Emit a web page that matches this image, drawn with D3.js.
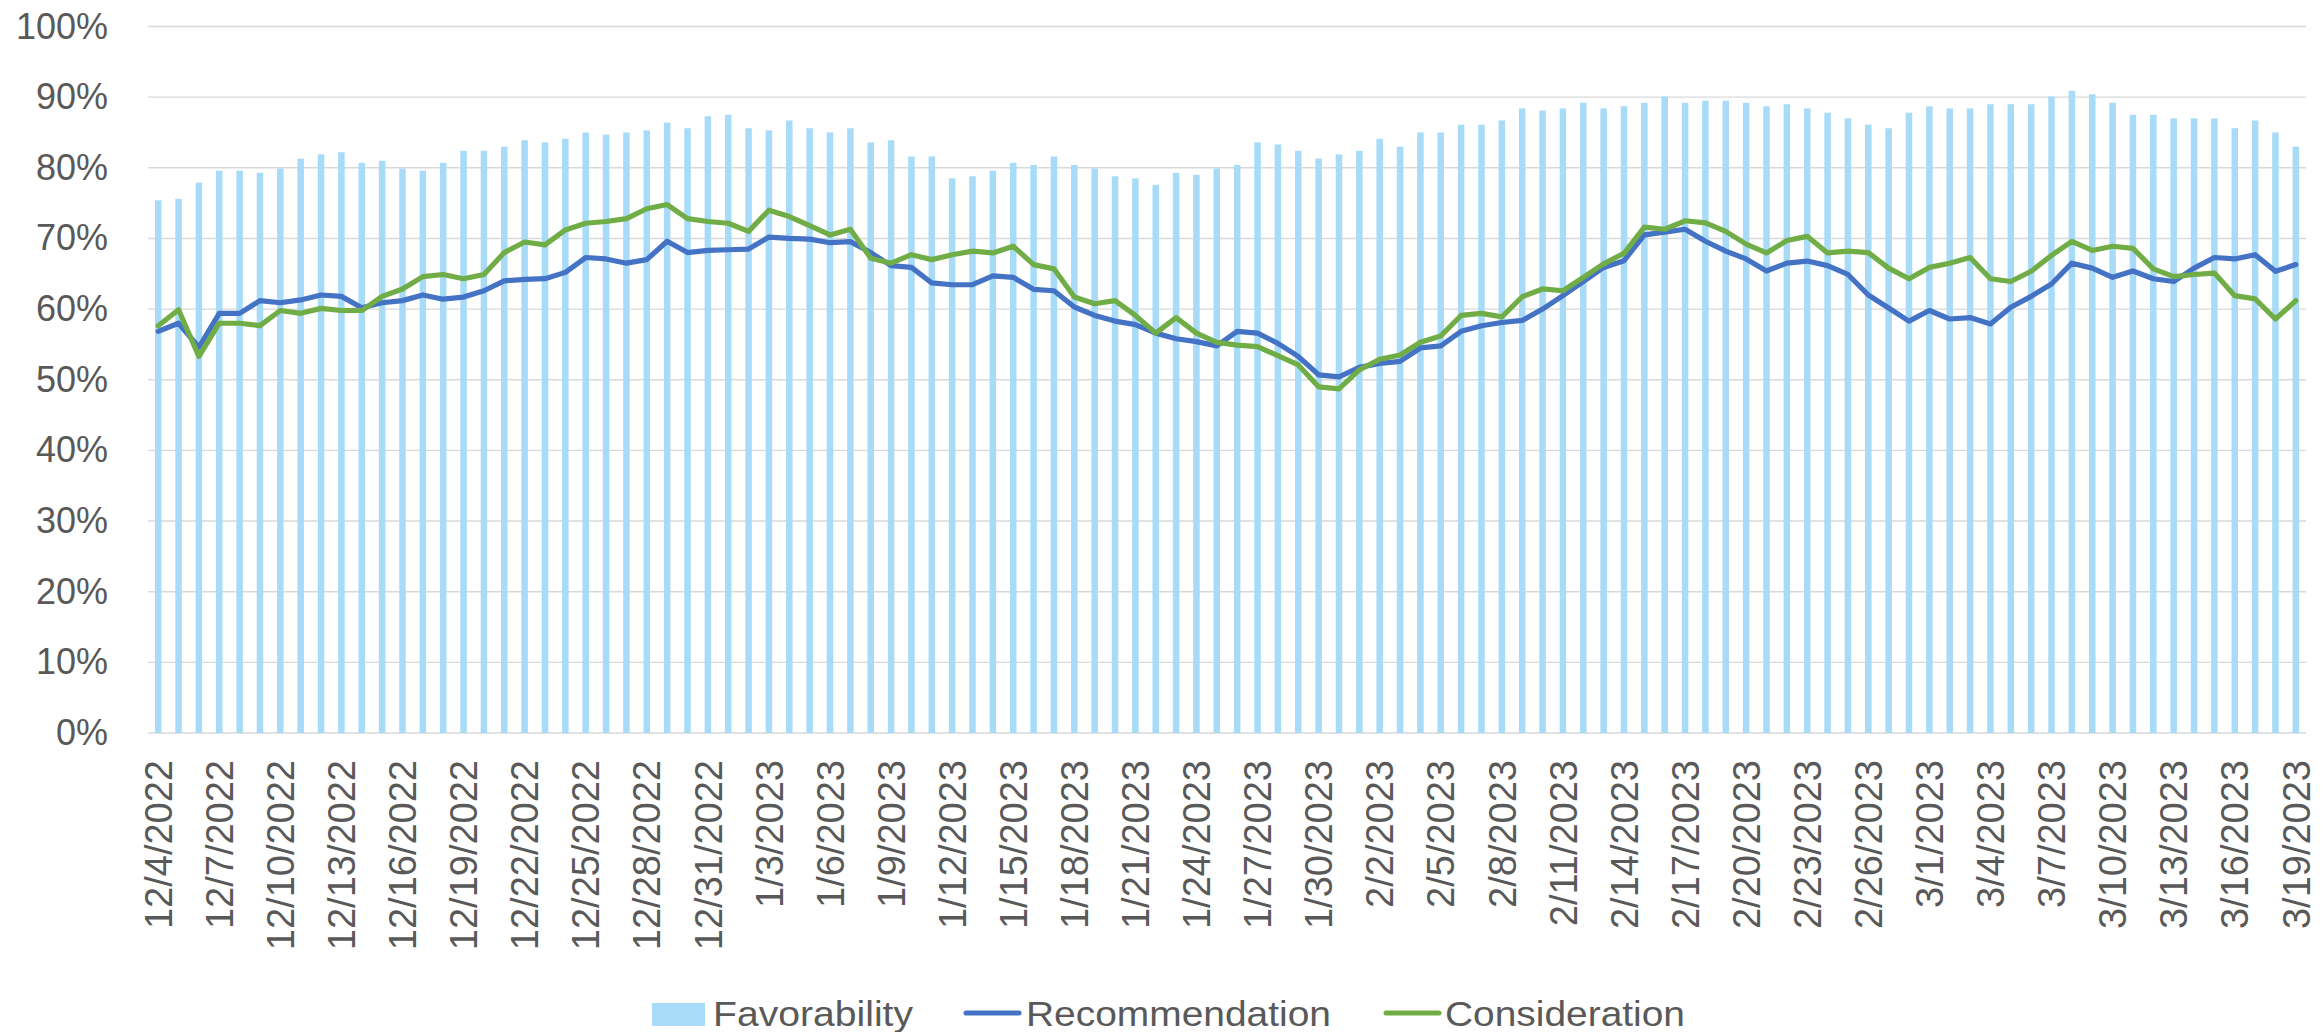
<!DOCTYPE html>
<html>
<head>
<meta charset="utf-8">
<script src="https://cdn.jsdelivr.net/npm/d3@7"></script>
<style>
  html, body { margin: 0; padding: 0; background: #ffffff; }
  svg { display: block; }
  text { font-family: "Liberation Sans", Arial, sans-serif; fill: #595959; }
</style>
</head>
<body>
<svg id="chart" width="2321" height="1032"></svg>
<script>
const dates = [
  "12/4/2022","12/5/2022","12/6/2022","12/7/2022","12/8/2022","12/9/2022","12/10/2022","12/11/2022","12/12/2022","12/13/2022",
  "12/14/2022","12/15/2022","12/16/2022","12/17/2022","12/18/2022","12/19/2022","12/20/2022","12/21/2022","12/22/2022","12/23/2022",
  "12/24/2022","12/25/2022","12/26/2022","12/27/2022","12/28/2022","12/29/2022","12/30/2022","12/31/2022",
  "1/1/2023","1/2/2023","1/3/2023","1/4/2023","1/5/2023","1/6/2023","1/7/2023","1/8/2023","1/9/2023","1/10/2023",
  "1/11/2023","1/12/2023","1/13/2023","1/14/2023","1/15/2023","1/16/2023","1/17/2023","1/18/2023","1/19/2023","1/20/2023",
  "1/21/2023","1/22/2023","1/23/2023","1/24/2023","1/25/2023","1/26/2023","1/27/2023","1/28/2023","1/29/2023","1/30/2023","1/31/2023",
  "2/1/2023","2/2/2023","2/3/2023","2/4/2023","2/5/2023","2/6/2023","2/7/2023","2/8/2023","2/9/2023","2/10/2023",
  "2/11/2023","2/12/2023","2/13/2023","2/14/2023","2/15/2023","2/16/2023","2/17/2023","2/18/2023","2/19/2023","2/20/2023",
  "2/21/2023","2/22/2023","2/23/2023","2/24/2023","2/25/2023","2/26/2023","2/27/2023","2/28/2023",
  "3/1/2023","3/2/2023","3/3/2023","3/4/2023","3/5/2023","3/6/2023","3/7/2023","3/8/2023","3/9/2023","3/10/2023",
  "3/11/2023","3/12/2023","3/13/2023","3/14/2023","3/15/2023","3/16/2023","3/17/2023","3/18/2023","3/19/2023"
];

const favorability = [
  75.4,75.6,77.9,79.6,79.6,79.3,79.9,81.3,81.9,82.2,
  80.7,81.0,79.9,79.6,80.7,82.4,82.4,83.0,83.9,83.6,
  84.1,85.0,84.7,85.0,85.3,86.4,85.6,87.3,87.5,85.6,
  85.3,86.7,85.6,85.0,85.6,83.6,83.9,81.6,81.6,78.5,
  78.8,79.6,80.7,80.4,81.6,80.4,79.9,78.8,78.5,77.6,
  79.3,79.0,79.9,80.4,83.6,83.3,82.4,81.3,81.9,82.4,
  84.1,83.0,85.0,85.0,86.1,86.1,86.7,88.4,88.1,88.4,
  89.2,88.4,88.7,89.2,90.1,89.2,89.5,89.5,89.2,88.7,
  89.0,88.4,87.8,87.0,86.1,85.6,87.8,88.7,88.4,88.4,
  89.0,89.0,89.0,90.1,90.9,90.4,89.2,87.5,87.5,87.0,
  87.0,87.0,85.6,86.7,85.0,83.0
];

const recommendation = [
  56.85,58.0,54.6,59.4,59.4,61.2,60.9,61.3,62.0,61.8,
  60.2,60.9,61.2,62.0,61.4,61.7,62.6,64.0,64.2,64.3,
  65.2,67.3,67.1,66.5,67.0,69.6,68.0,68.3,68.4,68.5,
  70.2,70.0,69.9,69.4,69.55,68.0,66.15,65.9,63.7,63.45,
  63.45,64.7,64.5,62.8,62.6,60.3,59.1,58.3,57.8,56.6,
  55.8,55.4,54.8,56.85,56.6,55.15,53.3,50.7,50.4,51.75,
  52.3,52.6,54.5,54.8,56.85,57.65,58.1,58.4,60.0,61.9,
  63.9,65.9,66.85,70.5,70.9,71.3,69.6,68.2,67.1,65.4,
  66.5,66.8,66.15,64.9,62.0,60.15,58.3,59.8,58.6,58.8,
  57.9,60.25,61.8,63.55,66.5,65.8,64.5,65.4,64.3,63.9,
  65.8,67.3,67.1,67.7,65.35,66.3
];

const consideration = [
  57.65,59.9,53.3,58.0,58.0,57.65,59.8,59.4,60.1,59.8,
  59.8,61.8,62.85,64.6,64.9,64.3,64.9,68.0,69.5,69.1,
  71.2,72.15,72.4,72.8,74.2,74.8,72.8,72.4,72.15,71.0,
  74.0,73.1,71.8,70.5,71.3,67.2,66.5,67.7,67.0,67.7,
  68.2,67.95,68.9,66.3,65.7,61.7,60.75,61.2,59.1,56.6,
  58.8,56.6,55.3,54.9,54.7,53.4,52.1,49.0,48.7,51.4,
  52.9,53.5,55.3,56.2,59.1,59.4,58.9,61.75,62.85,62.6,
  64.5,66.4,67.9,71.6,71.3,72.5,72.2,71.0,69.2,67.95,
  69.7,70.3,67.95,68.2,68.0,65.8,64.3,65.9,66.5,67.3,
  64.3,63.9,65.35,67.6,69.6,68.3,68.9,68.6,65.7,64.6,
  64.9,65.1,61.9,61.45,58.6,61.2
];

const yTicks = [0, 10, 20, 30, 40, 50, 60, 70, 80, 90, 100];
const xTickLabels = dates.filter((d, i) => i % 3 === 0);

const colors = { Favorability: "#a8dbf8", Recommendation: "#4472c4", Consideration: "#70ad47" };

(function () {
  const svg = d3.select("#chart");
  const plotLeft = 148, plotRight = 2306, plotTop = 26.5, plotBottom = 733;

  const x = d3.scaleBand().domain(dates).range([plotLeft, plotRight]).paddingInner(0.68).paddingOuter(0.34);
  const y = d3.scaleLinear().domain([0, 100]).range([plotBottom, plotTop]);

  // gridlines
  svg.append("g").selectAll("line").data(yTicks).join("line")
    .attr("x1", plotLeft).attr("x2", plotRight)
    .attr("y1", d => y(d)).attr("y2", d => y(d))
    .attr("stroke", "#d9d9d9").attr("stroke-width", 1.4);

  // y axis labels
  const yAxis = d3.axisLeft(y).tickValues(yTicks).tickFormat(d => d + "%").tickSize(0).tickPadding(0);
  const gy = svg.append("g").attr("transform", "translate(108,0)").call(yAxis);
  gy.select(".domain").remove();
  gy.selectAll("text").attr("font-size", 36).attr("fill", "#595959")
    .style("font-family", '"Liberation Sans", Arial, sans-serif');

  // bars
  svg.append("g").selectAll("rect").data(favorability).join("rect")
    .attr("x", (d, i) => x(dates[i]))
    .attr("width", x.bandwidth())
    .attr("y", d => y(d))
    .attr("height", d => plotBottom - y(d))
    .attr("fill", colors.Favorability);

  // lines
  const line = d3.line().x((d, i) => x(dates[i]) + x.bandwidth() / 2).y(d => y(d));
  [["Recommendation", recommendation], ["Consideration", consideration]].forEach(([name, vals]) => {
    svg.append("path").datum(vals)
      .attr("d", line)
      .attr("fill", "none")
      .attr("stroke", colors[name])
      .attr("stroke-width", 5.2)
      .attr("stroke-linejoin", "round")
      .attr("stroke-linecap", "round");
  });

  // x axis labels
  const xAxis = d3.axisBottom(x).tickValues(xTickLabels).tickSize(0).tickPadding(0);
  const gx = svg.append("g").attr("transform", `translate(0,${plotBottom})`).call(xAxis);
  gx.select(".domain").remove();
  gx.selectAll("text")
    .attr("font-size", 38).attr("fill", "#595959")
    .style("font-family", '"Liberation Sans", Arial, sans-serif')
    .attr("text-anchor", "end")
    .attr("transform", "rotate(-90)")
    .attr("x", -27).attr("y", 0).attr("dy", "0.36em");

  // legend
  const legend = svg.append("g");
  const legendItems = [
    { name: "Favorability", sx: 652, tx: 713, tw: 200 },
    { name: "Recommendation", sx: 966, tx: 1026, tw: 305 },
    { name: "Consideration", sx: 1386, tx: 1445, tw: 240 }
  ];
  legendItems.forEach(it => {
    if (it.name === "Favorability") {
      legend.append("rect").attr("x", it.sx).attr("y", 1003).attr("width", 53).attr("height", 23).attr("fill", colors[it.name]);
    } else {
      legend.append("line").attr("x1", it.sx).attr("x2", it.sx + 53).attr("y1", 1013).attr("y2", 1013)
        .attr("stroke", colors[it.name]).attr("stroke-width", 5).attr("stroke-linecap", "round");
    }
    legend.append("text").attr("x", it.tx).attr("y", 1026).attr("font-size", 35)
      .attr("textLength", it.tw).attr("lengthAdjust", "spacingAndGlyphs")
      .text(it.name);
  });
})();
</script>
</body>
</html>
